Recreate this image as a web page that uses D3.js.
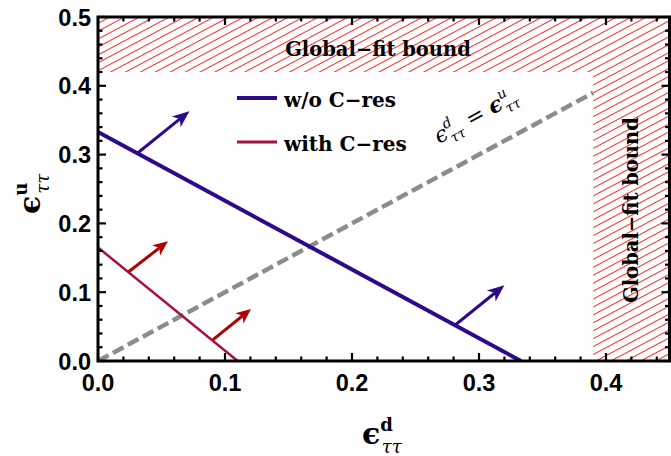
<!DOCTYPE html>
<html><head><meta charset="utf-8">
<script src="https://cdn.jsdelivr.net/npm/d3@7"></script>
<style>body{margin:0;background:#fff}</style>
</head><body><svg id="c" width="671" height="456" xmlns="http://www.w3.org/2000/svg"></svg>
<script>
// ---- data ----
const xDomain = [0, 0.45];
const yDomain = [0, 0.5];
const xTicks = [0, 0.1, 0.2, 0.3, 0.4];
const yTicks = [0, 0.1, 0.2, 0.3, 0.4, 0.5];
const xMinor = d3.range(0, 0.4501, 0.02);
const yMinor = d3.range(0, 0.5001, 0.02);
const blueLine = [[0, 0.333], [0.333, 0]];      // w/o C-res
const redLine = [[0, 0.165], [0.11, 0]];        // with C-res
const diagLine = [[0, 0], [0.39, 0.39]];        // eps_d = eps_u
const blueArrows = [[0.031, 0.302, 0.072, 0.363], [0.281, 0.052, 0.320, 0.110]];
const redArrows = [[0.0236, 0.129, 0.0551, 0.174], [0.0906, 0.031, 0.1205, 0.0756]];
const boundTop = {x0: 0, x1: 0.45, y0: 0.42, y1: 0.5};
const boundRight = {x0: 0.39, x1: 0.45, y0: 0, y1: 0.42};
const legendLabels = ["w/o C\u2212res", "with C\u2212res"];
const boundLabel = "Global\u2212fit bound";

// ---- layout ----
const svg = d3.select("#c");
const x = d3.scaleLinear().domain(xDomain).range([98, 669.5]);
const y = d3.scaleLinear().domain(yDomain).range([361, 17]);
const BLUE = "#2d0a8c", RED = "#a8103f", ARED = "#b00000";
const serif = "'DejaVu Serif', serif";

// hatch pattern
const defs = svg.append("defs");
const pat = defs.append("pattern").attr("id", "hatch").attr("patternUnits", "userSpaceOnUse")
  .attr("width", 7).attr("height", 7).attr("patternTransform", "rotate(-28)");
pat.append("line").attr("x1", -2).attr("x2", 9).attr("y1", 3.5).attr("y2", 3.5)
  .attr("stroke", "#ff2a2a").attr("stroke-width", 1);
defs.append("clipPath").attr("id", "plotclip").append("rect")
  .attr("x", x(0)).attr("y", y(0.5)).attr("width", x(0.45) - x(0)).attr("height", y(0) - y(0.5));

const g = svg.append("g").attr("clip-path", "url(#plotclip)");
[boundTop, boundRight].forEach(b => {
  g.append("rect").attr("x", x(b.x0)).attr("y", y(b.y1))
    .attr("width", x(b.x1) - x(b.x0)).attr("height", y(b.y0) - y(b.y1))
    .attr("fill", "url(#hatch)");
});

// frame ticks
const tk = svg.append("g").attr("stroke", "#000").attr("stroke-width", 2.2);
xMinor.forEach(v => {
  const major = xTicks.some(t => Math.abs(t - v) < 1e-6);
  const L = major ? 8 : 4.5;
  tk.append("line").attr("x1", x(v)).attr("x2", x(v)).attr("y1", y(0)).attr("y2", y(0) - L);
  tk.append("line").attr("x1", x(v)).attr("x2", x(v)).attr("y1", y(0.5)).attr("y2", y(0.5) + L);
});
yMinor.forEach(v => {
  const major = yTicks.some(t => Math.abs(t - v) < 1e-6);
  const L = major ? 8 : 4.5;
  tk.append("line").attr("y1", y(v)).attr("y2", y(v)).attr("x1", x(0)).attr("x2", x(0) + L);
  tk.append("line").attr("y1", y(v)).attr("y2", y(v)).attr("x1", x(0.45)).attr("x2", x(0.45) - L);
});

// lines
const line = d3.line().x(d => x(d[0])).y(d => y(d[1]));
g.append("path").attr("d", line(diagLine)).attr("stroke", "#8c8c8c").attr("stroke-width", 4.5)
  .attr("stroke-dasharray", "12,5").attr("fill", "none");
g.append("path").attr("d", line(blueLine)).attr("stroke", BLUE).attr("stroke-width", 4).attr("fill", "none");
g.append("path").attr("d", line(redLine)).attr("stroke", RED).attr("stroke-width", 2.5).attr("fill", "none");

function arrow(a, color, w, hl, hw) {
  const x0 = x(a[0]), y0 = y(a[1]), x1 = x(a[2]), y1 = y(a[3]);
  const dx = x1 - x0, dy = y1 - y0, L = Math.hypot(dx, dy);
  const ux = dx / L, uy = dy / L, px = -uy, py = ux;
  const bx = x1 - ux * hl, by = y1 - uy * hl;
  const nx = x1 - ux * hl * 0.72, ny = y1 - uy * hl * 0.72;
  svg.append("line").attr("x1", x0).attr("y1", y0).attr("x2", nx).attr("y2", ny)
    .attr("stroke", color).attr("stroke-width", w);
  svg.append("path").attr("d", `M${x1},${y1}L${bx + px * hw},${by + py * hw}L${nx},${ny}L${bx - px * hw},${by - py * hw}Z`)
    .attr("fill", color);
}
blueArrows.forEach(a => arrow(a, BLUE, 3, 17, 7));
redArrows.forEach(a => arrow(a, ARED, 3, 15, 6.5));

// frame
svg.append("rect").attr("x", x(0)).attr("y", y(0.5)).attr("width", x(0.45) - x(0)).attr("height", y(0) - y(0.5))
  .attr("fill", "none").attr("stroke", "#000").attr("stroke-width", 3);

// tick labels
const tf = "'Liberation Sans', Arial, sans-serif";
xTicks.forEach(v => svg.append("text").attr("x", x(v)).attr("y", 391).attr("text-anchor", "middle")
  .attr("font-family", tf).attr("font-weight", "bold").attr("font-size", 23.5).text(d3.format(".1f")(v)));
yTicks.forEach(v => svg.append("text").attr("x", 91).attr("y", y(v) + 8.5).attr("text-anchor", "end")
  .attr("font-family", tf).attr("font-weight", "bold").attr("font-size", 23.5).text(d3.format(".1f")(v)));

// legend
const leg = [[BLUE, 4], [RED, 3]];
legendLabels.forEach((t, i) => {
  const yy = 98 + i * 44;
  svg.append("line").attr("x1", 237).attr("x2", 277).attr("y1", yy).attr("y2", yy)
    .attr("stroke", leg[i][0]).attr("stroke-width", leg[i][1]);
  svg.append("text").attr("x", 284).attr("y", yy + 9).attr("font-family", serif).attr("font-weight", "bold")
    .attr("font-size", 20).text(t);
});

// bound labels
svg.append("text").attr("x", 378).attr("y", 56).attr("text-anchor", "middle").attr("font-family", serif)
  .attr("font-weight", "bold").attr("font-size", 19.5).text(boundLabel);
svg.append("text").attr("transform", "translate(638,210) rotate(-90)").attr("text-anchor", "middle")
  .attr("font-family", serif).attr("font-weight", "bold").attr("font-size", 19.5).text(boundLabel);

// eps label helper
function eps(sel, sup, big, small, weight) {
  sel.append("tspan").attr("font-size", big).attr("font-weight", weight).text("\u03f5");
  sel.append("tspan").attr("font-size", small).attr("font-weight", weight).attr("dy", -big * 0.45).text(sup);
  sel.append("tspan").attr("font-size", small).attr("font-style", "italic").attr("font-weight", "normal")
    .attr("dx", -small * 0.62).attr("dy", big * 0.75).text("\u03c4\u03c4");
  return sel;
}
// diagonal label
const ang = Math.atan2(y(0.39) - y(0), x(0.39) - x(0)) * 180 / Math.PI;
const dl = svg.append("text").attr("transform", `translate(439,144) rotate(${ang})`)
  .attr("font-family", serif).attr("font-style", "italic");
dl.append("tspan").attr("font-size", 22).text("\u03f5");
dl.append("tspan").attr("font-size", 14).attr("dy", -10).text("d");
dl.append("tspan").attr("font-size", 14).attr("dx", -8).attr("dy", 16).text("\u03c4\u03c4");
dl.append("tspan").attr("font-size", 22).attr("font-style", "normal").attr("dy", -6).text(" = ");
dl.append("tspan").attr("font-size", 22).attr("font-weight", "bold").text("\u03f5");
dl.append("tspan").attr("font-size", 14).attr("dy", -10).text("u");
dl.append("tspan").attr("font-size", 14).attr("dx", -8).attr("dy", 16).text("\u03c4\u03c4");

// axis titles
const xt = svg.append("text").attr("x", 362).attr("y", 444).attr("font-family", serif);
eps(xt, "d", 30, 18, "bold");
const yt = svg.append("text").attr("transform", "translate(40,214) rotate(-90)").attr("font-family", serif);
eps(yt, "u", 30, 18, "bold");
</script></body></html>
